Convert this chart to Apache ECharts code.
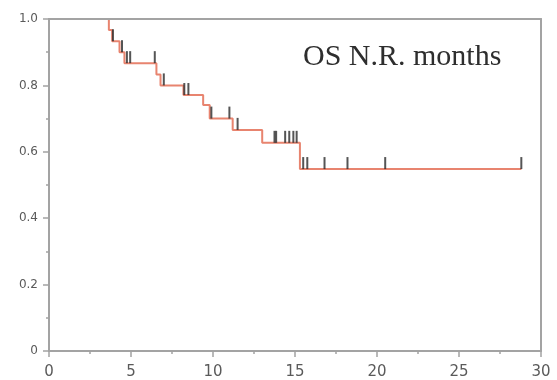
<!DOCTYPE html>
<html>
<head>
<meta charset="utf-8">
<script src="https://cdn.jsdelivr.net/npm/echarts@6/dist/echarts.min.js"></script>
<style>
html,body{margin:0;padding:0;background:#fff;}
#chart{width:557px;height:380px;}
</style>
</head>
<body>
<div id="chart"></div>
<script>
// Kaplan-Meier step points (months, survival probability)
const times = [0, 3.65, 3.85, 4.3, 4.6, 6.55, 6.8, 8.2, 9.4, 9.8, 11.2, 13.0, 15.3, 28.8];
const survival = [1.0, 0.967, 0.933, 0.90, 0.867, 0.833, 0.80, 0.771, 0.741, 0.70, 0.666, 0.627, 0.548, 0.548];
// censoring times (months)
const censorTimes = [3.9, 4.45, 4.75, 4.95, 6.45, 7.0, 8.25, 8.5, 9.9, 11.0, 11.5, 13.75, 13.85, 14.4, 14.65, 14.9, 15.1, 15.5, 15.75, 16.8, 18.2, 20.5, 28.8];
const xTicks = [0, 5, 10, 15, 20, 25, 30];
const yTicks = [0, 0.2, 0.4, 0.6, 0.8, 1.0];
const annotation = 'OS N.R. months';

function survAt(t) {
  let s = survival[0];
  for (let i = 0; i < times.length; i++) {
    if (times[i] <= t) s = survival[i];
  }
  return s;
}

const lineData = times.map((t, i) => [t, survival[i]]);
const censorData = censorTimes.map(t => [t, survAt(t)]);

const axisColor = '#a3a3a3';
const labelColor = '#5a5a5a';

const chart = echarts.init(document.getElementById('chart'), null, {renderer: 'canvas'});
chart.setOption({
  animation: false,
  backgroundColor: '#ffffff',
  grid: {left: 49, right: 16, top: 19, bottom: 29},
  xAxis: [{
    type: 'value', min: xTicks[0], max: xTicks[xTicks.length - 1], interval: 5,
    axisLine: {show: true, onZero: false, lineStyle: {color: axisColor, width: 2}},
    axisTick: {show: true, length: 6, lineStyle: {color: axisColor, width: 1.5}},
    minorTick: {show: true, splitNumber: 2, length: 3, lineStyle: {color: axisColor, width: 1.5}},
    splitLine: {show: false},
    axisLabel: {color: labelColor, fontFamily: 'DejaVu Sans', fontSize: 15, margin: 14}
  }, {
    type: 'value', position: 'top', min: xTicks[0], max: xTicks[xTicks.length - 1], z: 10,
    axisLine: {show: true, onZero: false, lineStyle: {color: axisColor, width: 2}},
    axisTick: {show: false}, axisLabel: {show: false}, splitLine: {show: false}
  }],
  yAxis: [{
    type: 'value', min: yTicks[0], max: yTicks[yTicks.length - 1], interval: 0.2,
    axisLine: {show: true, onZero: false, lineStyle: {color: axisColor, width: 2}},
    axisTick: {show: true, length: 6, lineStyle: {color: axisColor, width: 1.5}},
    minorTick: {show: true, splitNumber: 2, length: 3, lineStyle: {color: axisColor, width: 1.5}},
    splitLine: {show: false},
    axisLabel: {
      color: labelColor, fontFamily: 'DejaVu Sans', fontSize: 12, margin: 11,
      formatter: v => (v === 0 ? '0' : v.toFixed(1))
    }
  }, {
    type: 'value', position: 'right', min: yTicks[0], max: yTicks[yTicks.length - 1], z: 10,
    axisLine: {show: true, onZero: false, lineStyle: {color: axisColor, width: 2}},
    axisTick: {show: false}, axisLabel: {show: false}, splitLine: {show: false}
  }],
  graphic: [{
    type: 'text', left: 303, top: 42, z: 20,
    style: {text: annotation, font: '30px "Liberation Serif"', fill: '#2e2e2e'}
  }],
  series: [{
    type: 'line', step: 'end', xAxisIndex: 0, yAxisIndex: 0,
    data: lineData, showSymbol: false, symbol: 'none',
    lineStyle: {color: '#e8846f', width: 2}, z: 3
  }, {
    type: 'scatter', xAxisIndex: 0, yAxisIndex: 0,
    data: censorData, symbol: 'rect', symbolSize: [2, 12], symbolOffset: [0, -6],
    itemStyle: {color: '#2a2a2a'}, z: 4
  }]
});
</script>
</body>
</html>
